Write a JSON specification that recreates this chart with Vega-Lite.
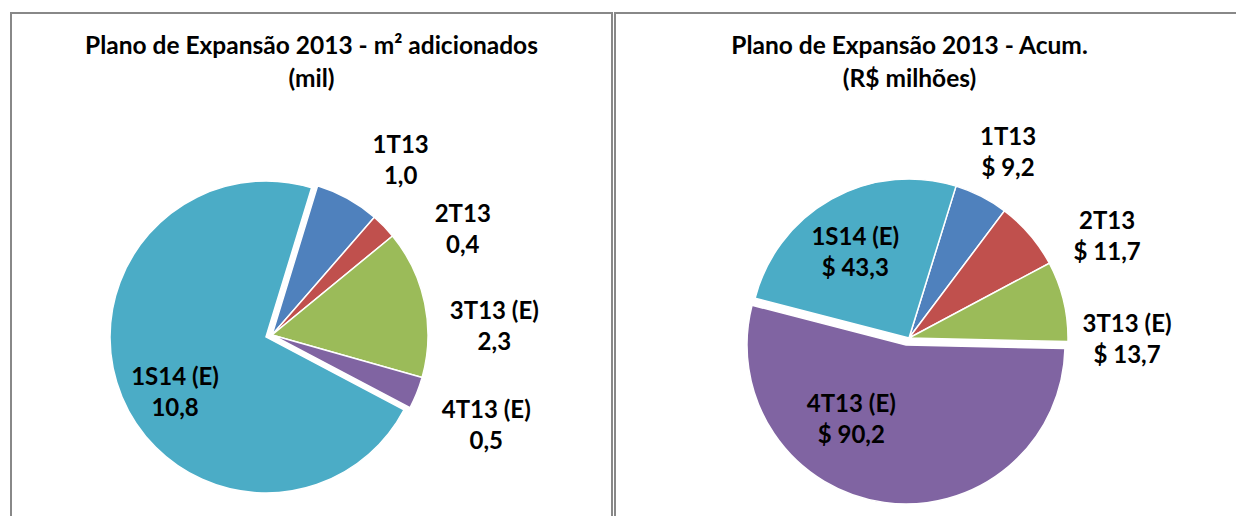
{
  "$schema": "https://vega.github.io/schema/vega-lite/v6.json",
  "padding": {"left": 10, "top": 12, "right": 0, "bottom": 0},
  "spacing": 1,
  "config": {
    "font": "Lato",
    "view": {"stroke": "#888888", "strokeWidth": 2},
    "title": {"font": "Lato", "fontSize": 24.5, "fontWeight": "bold", "color": "#000000", "lineHeight": 33}
  },
  "hconcat": [
    {
      "width": 601,
      "height": 503,
      "view": {"stroke": "#888888", "strokeWidth": 2, "strokeDash": [1104, 601]},
      "title": {"text": ["Plano de Expansão 2013 - m² adicionados", "(mil)"], "anchor": "middle", "frame": "group", "baseline": "top", "offset": -79},
      "data": {"values": [
        {"label": "1T13", "value": 1.0},
        {"label": "2T13", "value": 0.4},
        {"label": "3T13 (E)", "value": 2.3},
        {"label": "4T13 (E)", "value": 0.5},
        {"label": "1S14 (E)", "value": 10.8}
      ]},
      "encoding": {
        "theta": {"field": "value", "type": "quantitative", "stack": true, "scale": {"range": [-4.2272, 2.0560]}},
        "order": {"field": "label", "type": "ordinal"},
        "detail": {"field": "label"}
      },
      "layer": [
        {
          "mark": {"type": "arc", "outerRadius": 156, "x": 261, "y": 322, "stroke": "#ffffff", "strokeWidth": 1.5},
          "encoding": {
            "color": {"field": "label", "type": "nominal", "legend": null, "scale": {"domain": ["1T13", "2T13", "3T13 (E)", "4T13 (E)", "1S14 (E)"], "range": ["#4F81BD", "#C0504D", "#9BBB59", "#8064A2", "#4BACC6"]}},
            "opacity": {"condition": {"test": "datum.label === '1S14 (E)'", "value": 0}, "value": 1}
          }
        },
        {
          "mark": {"type": "arc", "outerRadius": 156, "x": 255, "y": 324, "stroke": "#ffffff", "strokeWidth": 1.5},
          "encoding": {
            "color": {"field": "label", "type": "nominal", "legend": null},
            "opacity": {"condition": {"test": "datum.label === '1S14 (E)'", "value": 1}, "value": 0}
          }
        },
        {
          "mark": {"type": "text", "x": 261, "y": 322, "dx": 22, "dy": 3, "fontSize": 24, "fontWeight": "bold", "lineHeight": 31, "align": "center", "baseline": "middle", "color": "#000000", "text": {"expr": "[datum.label, replace(format(datum.value, '.1f'), '.', ',')]"}},
          "encoding": {"radius": {"value": 220}, "opacity": {"condition": {"test": "datum.label === '1T13'", "value": 1}, "value": 0}}
        },
        {
          "mark": {"type": "text", "x": 261, "y": 322, "dx": 33, "dy": 33, "fontSize": 24, "fontWeight": "bold", "lineHeight": 31, "align": "center", "baseline": "middle", "color": "#000000", "text": {"expr": "[datum.label, replace(format(datum.value, '.1f'), '.', ',')]"}},
          "encoding": {"radius": {"value": 220}, "opacity": {"condition": {"test": "datum.label === '2T13'", "value": 1}, "value": 0}}
        },
        {
          "mark": {"type": "text", "x": 261, "y": 322, "dx": 7, "dy": 22, "fontSize": 24, "fontWeight": "bold", "lineHeight": 31, "align": "center", "baseline": "middle", "color": "#000000", "text": {"expr": "[datum.label, replace(format(datum.value, '.1f'), '.', ',')]"}},
          "encoding": {"radius": {"value": 220}, "opacity": {"condition": {"test": "datum.label === '3T13 (E)'", "value": 1}, "value": 0}}
        },
        {
          "mark": {"type": "text", "x": 261, "y": 322, "dx": 10, "dy": -6, "fontSize": 24, "fontWeight": "bold", "lineHeight": 31, "align": "center", "baseline": "middle", "color": "#000000", "text": {"expr": "[datum.label, replace(format(datum.value, '.1f'), '.', ',')]"}},
          "encoding": {"radius": {"value": 220}, "opacity": {"condition": {"test": "datum.label === '4T13 (E)'", "value": 1}, "value": 0}}
        },
        {
          "mark": {"type": "text", "x": 255, "y": 324, "dx": 6, "dy": 1, "fontSize": 24, "fontWeight": "bold", "lineHeight": 31, "align": "center", "baseline": "middle", "color": "#000000", "text": {"expr": "[datum.label, replace(format(datum.value, '.1f'), '.', ',')]"}},
          "encoding": {"radius": {"value": 105}, "opacity": {"condition": {"test": "datum.label === '1S14 (E)'", "value": 1}, "value": 0}}
        }
      ]
    },
    {
      "width": 621,
      "height": 503,
      "view": {"stroke": "#888888", "strokeWidth": 2, "strokeDash": [621, 1124, 503]},
      "title": {"text": ["Plano de Expansão 2013 - Acum.", "(R$ milhões)"], "anchor": "middle", "dx": -16, "frame": "group", "baseline": "top", "offset": -79},
      "data": {"values": [
        {"label": "1T13", "value": 9.2},
        {"label": "2T13", "value": 11.7},
        {"label": "3T13 (E)", "value": 13.7},
        {"label": "4T13 (E)", "value": 90.2},
        {"label": "1S14 (E)", "value": 43.3}
      ]},
      "encoding": {
        "theta": {"field": "value", "type": "quantitative", "stack": true, "scale": {"range": [-1.3183, 4.9649]}},
        "order": {"field": "label", "type": "ordinal"},
        "detail": {"field": "label"}
      },
      "layer": [
        {
          "mark": {"type": "arc", "outerRadius": 159, "x": 294, "y": 325, "stroke": "#ffffff", "strokeWidth": 1.5},
          "encoding": {
            "color": {"field": "label", "type": "nominal", "legend": null, "scale": {"domain": ["1T13", "2T13", "3T13 (E)", "4T13 (E)", "1S14 (E)"], "range": ["#4F81BD", "#C0504D", "#9BBB59", "#8064A2", "#4BACC6"]}},
            "opacity": {"condition": {"test": "datum.label === '4T13 (E)'", "value": 0}, "value": 1}
          }
        },
        {
          "mark": {"type": "arc", "outerRadius": 159, "x": 291, "y": 332, "stroke": "#ffffff", "strokeWidth": 1.5},
          "encoding": {
            "color": {"field": "label", "type": "nominal", "legend": null},
            "opacity": {"condition": {"test": "datum.label === '4T13 (E)'", "value": 1}, "value": 0}
          }
        },
        {
          "mark": {"type": "text", "x": 294, "y": 325, "dx": -1, "dy": -4, "fontSize": 24, "fontWeight": "bold", "lineHeight": 31, "align": "center", "baseline": "middle", "color": "#000000", "text": {"expr": "[datum.label, '$ ' + replace(format(datum.value, '.1f'), '.', ',')]"}},
          "encoding": {"radius": {"value": 220}, "opacity": {"condition": {"test": "datum.label === '1T13'", "value": 1}, "value": 0}}
        },
        {
          "mark": {"type": "text", "x": 294, "y": 325, "dx": 31, "dy": 27, "fontSize": 24, "fontWeight": "bold", "lineHeight": 31, "align": "center", "baseline": "middle", "color": "#000000", "text": {"expr": "[datum.label, '$ ' + replace(format(datum.value, '.1f'), '.', ',')]"}},
          "encoding": {"radius": {"value": 220}, "opacity": {"condition": {"test": "datum.label === '2T13'", "value": 1}, "value": 0}}
        },
        {
          "mark": {"type": "text", "x": 294, "y": 325, "dx": 4, "dy": 38, "fontSize": 24, "fontWeight": "bold", "lineHeight": 31, "align": "center", "baseline": "middle", "color": "#000000", "text": {"expr": "[datum.label, '$ ' + replace(format(datum.value, '.1f'), '.', ',')]"}},
          "encoding": {"radius": {"value": 220}, "opacity": {"condition": {"test": "datum.label === '3T13 (E)'", "value": 1}, "value": 0}}
        },
        {
          "mark": {"type": "text", "x": 291, "y": 332, "dx": -41, "dy": -39, "fontSize": 24, "fontWeight": "bold", "lineHeight": 31, "align": "center", "baseline": "middle", "color": "#000000", "text": {"expr": "[datum.label, '$ ' + replace(format(datum.value, '.1f'), '.', ',')]"}},
          "encoding": {"radius": {"value": 100}, "opacity": {"condition": {"test": "datum.label === '4T13 (E)'", "value": 1}, "value": 0}}
        },
        {
          "mark": {"type": "text", "x": 294, "y": 325, "dx": -5, "dy": -13, "fontSize": 24, "fontWeight": "bold", "lineHeight": 31, "align": "center", "baseline": "middle", "color": "#000000", "text": {"expr": "[datum.label, '$ ' + replace(format(datum.value, '.1f'), '.', ',')]"}},
          "encoding": {"radius": {"value": 100}, "opacity": {"condition": {"test": "datum.label === '1S14 (E)'", "value": 1}, "value": 0}}
        }
      ]
    }
  ]
}
